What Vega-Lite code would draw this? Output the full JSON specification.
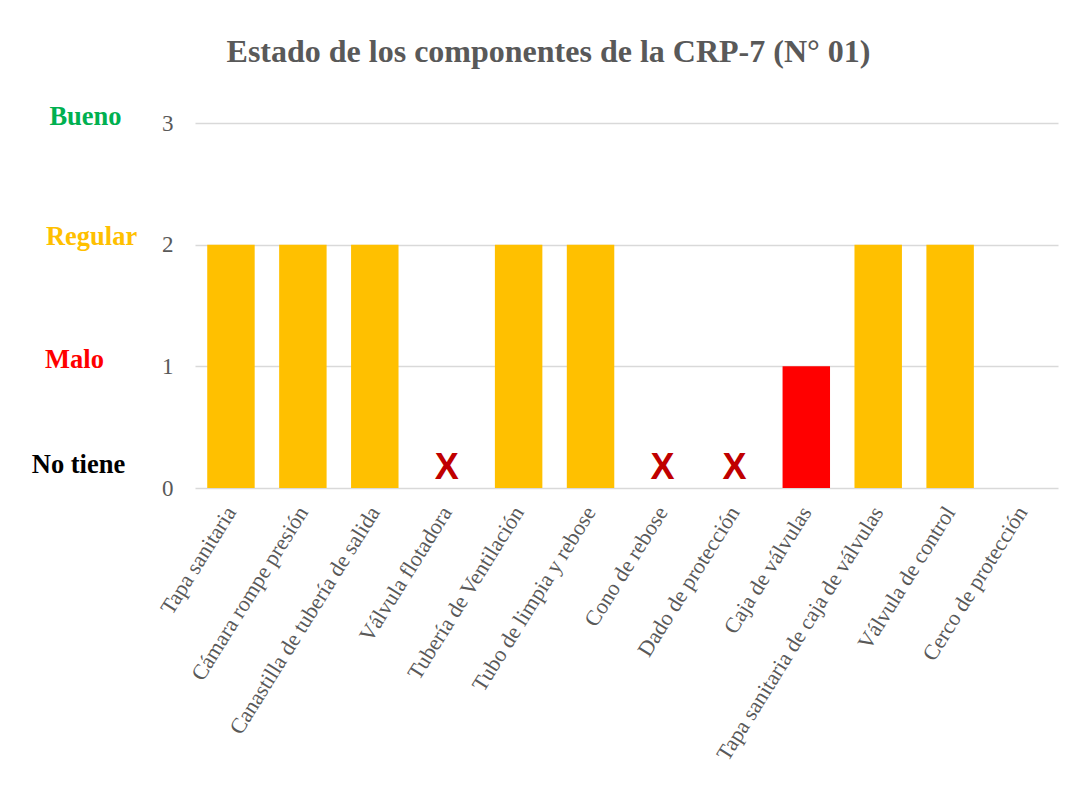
{
  "$schema": "https://vega.github.io/schema/vega-lite/v6.json",
  "width": 863,
  "height": 365,
  "autosize": {"type": "none"},
  "padding": {"left": 195, "top": 123, "right": 22, "bottom": 306},
  "background": "white",
  "title": {
    "text": "Estado de los componentes de la CRP-7 (N° 01)",
    "font": "Liberation Serif",
    "fontSize": 32,
    "fontWeight": "bold",
    "color": "#595959",
    "anchor": "middle",
    "dx": -78,
    "offset": 35
  },
  "config": {"view": {"stroke": null}},
  "data": {
    "values": [
      {"componente": "Tapa sanitaria", "valor": 2, "estado": "Regular"},
      {"componente": "Cámara rompe presión", "valor": 2, "estado": "Regular"},
      {"componente": "Canastilla de tubería de salida", "valor": 2, "estado": "Regular"},
      {"componente": "Válvula flotadora", "valor": null, "estado": "No tiene"},
      {"componente": "Tubería de Ventilación", "valor": 2, "estado": "Regular"},
      {"componente": "Tubo de limpia y rebose", "valor": 2, "estado": "Regular"},
      {"componente": "Cono de rebose", "valor": null, "estado": "No tiene"},
      {"componente": "Dado de protección", "valor": null, "estado": "No tiene"},
      {"componente": "Caja de válvulas", "valor": 1, "estado": "Malo"},
      {"componente": "Tapa sanitaria de caja de válvulas", "valor": 2, "estado": "Regular"},
      {"componente": "Válvula de control", "valor": 2, "estado": "Regular"},
      {"componente": "Cerco de protección", "valor": null, "estado": ""}
    ]
  },
  "encoding": {
    "x": {
      "field": "componente",
      "type": "nominal",
      "sort": null,
      "scale": {
        "domain": ["Tapa sanitaria", "Cámara rompe presión", "Canastilla de tubería de salida", "Válvula flotadora", "Tubería de Ventilación", "Tubo de limpia y rebose", "Cono de rebose", "Dado de protección", "Caja de válvulas", "Tapa sanitaria de caja de válvulas", "Válvula de control", "Cerco de protección"],
        "paddingInner": 0.34,
        "paddingOuter": 0.17
      },
      "axis": {
        "title": null,
        "labelAngle": -58,
        "labelAlign": "right",
        "labelBaseline": "middle",
        "labelFont": "Liberation Serif",
        "labelFontSize": 22,
        "labelColor": "#595959",
        "labelPadding": 20,
        "labelLimit": 0,
        "labelOverlap": false,
        "labelBound": false,
        "labelFlush": false,
        "ticks": false,
        "domain": false,
        "grid": false
      }
    }
  },
  "layer": [
    {
      "mark": {"type": "bar"},
      "encoding": {
        "y": {
          "field": "valor",
          "type": "quantitative",
          "scale": {"domain": [0, 3], "nice": false},
          "axis": {
            "title": null,
            "orient": "left",
            "values": [0, 1, 2, 3],
            "format": "d",
            "labelFont": "Liberation Serif",
            "labelFontSize": 23,
            "labelColor": "#595959",
            "labelPadding": 22,
            "ticks": false,
            "domain": false,
            "grid": true,
            "gridColor": "#D9D9D9",
            "gridWidth": 1.5
          }
        },
        "color": {
          "field": "estado",
          "type": "nominal",
          "scale": {"domain": ["Regular", "Malo"], "range": ["#FFC000", "#FF0000"]},
          "legend": null
        }
      }
    },
    {
      "transform": [{"filter": "datum.estado == 'No tiene'"}],
      "mark": {
        "type": "text",
        "text": "X",
        "font": "Liberation Sans",
        "fontWeight": "bold",
        "fontSize": 36,
        "color": "#C00000",
        "baseline": "alphabetic",
        "align": "center"
      },
      "encoding": {
        "y": {
          "datum": 0.075,
          "type": "quantitative",
          "axis": {
            "title": null,
            "orient": "left",
            "values": [0, 1, 2, 3],
            "labelExpr": "datum.value == 3 ? 'Bueno' : datum.value == 2 ? 'Regular' : datum.value == 1 ? 'Malo' : 'No tiene'",
            "labelFont": "Liberation Serif",
            "labelFontWeight": "bold",
            "labelFontSize": 26.5,
            "labelColor": {"expr": "datum.value == 3 ? '#00B050' : datum.value == 2 ? '#FFC000' : datum.value == 1 ? '#FF0000' : '#000000'"},
            "labelAlign": "center",
            "labelBaseline": "middle",
            "labelPadding": {"expr": "datum.value == 3 ? 110 : datum.value == 2 ? 104 : datum.value == 1 ? 121 : 117"},
            "labelOffset": {"expr": "datum.value == 0 ? -24 : datum.value == 1 ? -7 : datum.value == 2 ? -8 : -6.5"},
            "ticks": false,
            "domain": false,
            "grid": false
          }
        }
      }
    }
  ],
  "resolve": {"axis": {"y": "independent"}}
}
